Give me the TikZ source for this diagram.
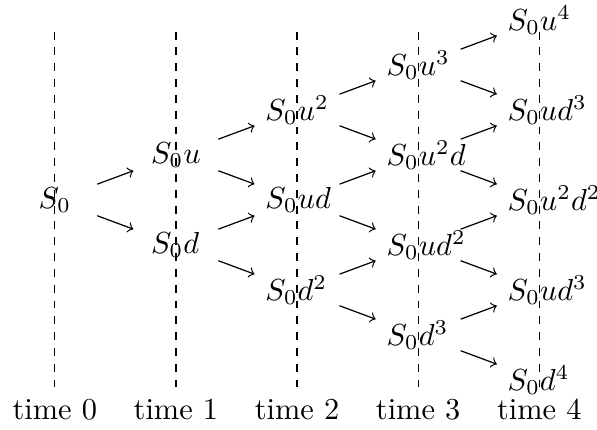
\documentclass[tikz,border=0pt]{standalone}
\usepackage{amsmath}
\newlength{\colone}
\newlength{\coltwo}
\newlength{\colthree}
\newlength{\colfour}

\begin{document}
\begin{tikzpicture}[x=1.4cm,y=0.52cm,
        col/.style={text width=#1,align=left},
        move/.style={->,shorten <=14.9pt,shorten >=14.9pt},
        timeline/.style={dash pattern=on 2.6pt off 2.6pt}]
        \useasboundingbox (-0.452,-5.111) rectangle (4.476,4.444);
        \settowidth{\colone}{$S_0u$}
        \settowidth{\coltwo}{$S_0u^2$}
        \settowidth{\colthree}{$S_0u^3$}
        \settowidth{\colfour}{$S_0u^4$}
        \foreach \i in {0,...,4} {\node[below] (t\i) at (\i,-4.18) {time \i};
                \draw[timeline] (\i,3.74) -- (t\i);}

{\node (s0) at (0,0) {$S_0$};}

{\node[col=\colone] (su) at (1,1) {$S_0u$};}
{\node[col=\colone] (sd) at (1,-1) {$S_0d$};}

{\node[col=\coltwo] (suu) at (2,2) {$S_0u^2$};}
{\node[col=\coltwo] (sud) at (2,0) {$S_0ud$};}
{\node[col=\coltwo] (sdd) at (2,-2) {$S_0d^2$};}

{\node[col=\colthree] (suuu) at (3,3) {$S_0u^3$};}
{\node[col=\colthree] (suud) at (3,1) {$S_0u^2d$};}
{\node[col=\colthree] (sudd) at (3,-1) {$S_0ud^2$};}
{\node[col=\colthree] (sddd) at (3,-3) {$S_0d^3$};}

{\node[col=\colfour] (suuuu) at (4,4) {$S_0u^4$};}
{\node[col=\colfour] (suuud) at (4,2) {$S_0ud^3$};}
{\node[col=\colfour] (suudd) at (4,0) {$S_0u^2d^2$};}
{\node[col=\colfour] (suddd) at (4,-2) {$S_0ud^3$};}
{\node[col=\colfour] (sdddd) at (4,-4) {$S_0d^4$};}

        \foreach \a/\b in {s0/su,s0/sd,su/suu,su/sud,sd/sud,sd/sdd,
                suu/suuu,suu/suud,sud/suud,sud/sudd,sdd/sudd,sdd/sddd,
                suuu/suuuu,suuu/suuud,suud/suuud,suud/suudd,
                sudd/suudd,sudd/suddd,sddd/suddd,sddd/sdddd}
                {\draw[move] (\a.center) -- (\b.center);}

\end{tikzpicture}
\end{document}
